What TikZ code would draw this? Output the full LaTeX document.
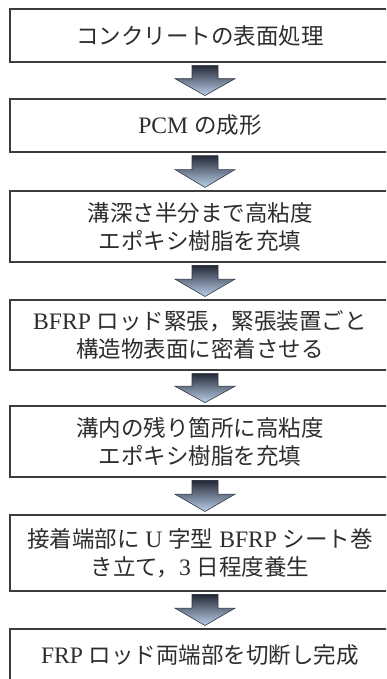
\documentclass[tikz,border=0pt]{standalone}
\usepackage{fontspec}
\setmainfont{Liberation Serif}[Scale=1.05]
\newfontfamily\jp{Noto Sans CJK JP}
\usetikzlibrary{calc}
\definecolor{boxline}{RGB}{60,60,60}
\definecolor{txt}{RGB}{45,45,45}
\definecolor{arrtop}{RGB}{36,40,54}
\definecolor{arrmid}{RGB}{95,115,145}
\definecolor{arrbot}{RGB}{188,210,236}
\definecolor{arrline}{RGB}{50,55,65}
\newcommand\flowarrow[2]{%
  \path[flowarr]
    ($(#1.south)!0.08!(#2.north)+(-8,0)$) -- ($(#1.south)!0.08!(#2.north)+(18,0)$)
    -- ($(#1.south)!0.45!(#2.north)+(18,0)$) -- ($(#1.south)!0.45!(#2.north)+(35,0)$)
    -- ($(#1.south)!0.92!(#2.north)+(5,0)$) -- ($(#1.south)!0.45!(#2.north)+(-25,0)$)
    -- ($(#1.south)!0.45!(#2.north)+(-8,0)$) -- cycle;}
\begin{document}
\begin{tikzpicture}[x=1pt,y=-1pt,
  stepbox/.style={draw=boxline,line width=1.1pt,minimum width=380pt,align=center,
    text=txt,inner sep=2pt,font=\fontsize{22.5}{28}\selectfont},
  flowarr/.style={draw=arrline,line width=0.6pt,top color=arrtop,middle color=arrmid,bottom color=arrbot}]
\useasboundingbox (0,0) rectangle (386,679);
\clip (0,0) rectangle (386,679);
\node[stepbox,minimum height=53pt] (b1) at (200,35.5) {{\jp コンクリートの表面処理}};
\node[stepbox,minimum height=53pt] (b2) at (200,125.5) {PCM {\jp の成形}};
\node[stepbox,minimum height=71pt] (b3) at (200,226.5) {{\jp 溝深さ半分まで高粘度}\\{\jp エポキシ樹脂を充填}};
\node[stepbox,minimum height=70pt] (b4) at (200,335) {BFRP {\jp ロッド緊張，緊張装置ごと}\\{\jp 構造物表面に密着させる}};
\node[stepbox,minimum height=71pt] (b5) at (200,441.5) {{\jp 溝内の残り箇所に高粘度}\\{\jp エポキシ樹脂を充填}};
\node[stepbox,minimum height=76pt] (b6) at (200,553) {{\jp 接着端部に} U {\jp 字型} BFRP {\jp シート巻}\\{\jp き立て，}3 {\jp 日程度養生}};
\node[stepbox,minimum height=53pt] (b7) at (200,655.5) {FRP {\jp ロッド両端部を切断し完成}};
\flowarrow{b1}{b2}
\flowarrow{b2}{b3}
\flowarrow{b3}{b4}
\flowarrow{b4}{b5}
\flowarrow{b5}{b6}
\flowarrow{b6}{b7}
\end{tikzpicture}
\end{document}
